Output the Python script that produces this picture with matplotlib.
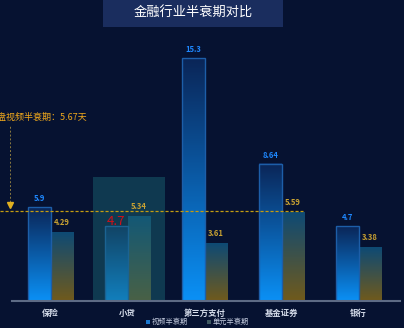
import numpy as np
import matplotlib
matplotlib.use("Agg")
import matplotlib.pyplot as plt
from matplotlib.colors import LinearSegmentedColormap
from matplotlib.patches import Rectangle

plt.rcParams['font.family'] = ['Noto Sans CJK SC', 'DejaVu Sans']

categories = ["保险", "小贷", "第三方支付", "基金证券", "银行"]
video_half = [5.9, 4.7, 15.3, 8.64, 4.7]
unit_half = [4.29, 5.34, 3.61, 5.59, 3.38]
highlight = 1  # 小贷: label drawn in red
avg_value = 5.67
avg_label = "大盘视频半衰期：5.67天"
title = "金融行业半衰期对比"
legend_names = ["视频半衰期", "单元半衰期"]

BG = "#061231"
W, H = 404, 328
fig = plt.figure(figsize=(W / 100, H / 100), dpi=100, facecolor=BG)

# plot area: x 12..397 px, baseline at y=301 px, 15.88 px per unit
ax = fig.add_axes([12 / W, (H - 301) / H, 385 / W, 16 * 15.88 / H])
ax.set_facecolor(BG)
ax.set_xlim(-0.5, 4.5)
ax.set_ylim(0, 16)
for s in ax.spines.values():
    s.set_visible(False)
ax.set_yticks([])
ax.set_xticks(range(len(categories)))
ax.set_xticklabels(categories, color="#d5dcea", fontsize=6, fontweight="bold")
ax.tick_params(axis="x", length=0, pad=6)

blue_cmap = LinearSegmentedColormap.from_list("b", ["#0a90f5", "#0b2658"])
gold_cmap = LinearSegmentedColormap.from_list("g", ["#705a1c", "#0e4a74"])
grad = np.linspace(0, 1, 100).reshape(-1, 1)

bw = 0.286
x = np.arange(len(categories))
for i in range(len(categories)):
    xb = x[i] - bw
    vb = video_half[i]
    ax.imshow(grad, cmap=blue_cmap, origin="lower", aspect="auto",
              extent=(xb, xb + bw, 0, vb), zorder=2)
    ax.add_patch(Rectangle((xb, 0), bw, vb, fill=False, edgecolor="#1d5ea8",
                           lw=1.0, zorder=3))
    if i == highlight:
        ax.annotate(f"{vb:g}", (xb + bw / 2, vb), xytext=(0, -1),
                    textcoords="offset points", ha="center", va="bottom",
                    color="#d0101a", fontsize=9.5, zorder=7)
    else:
        ax.annotate(f"{vb:g}", (xb + bw / 2, vb), xytext=(0, 3),
                    textcoords="offset points", ha="center", va="bottom",
                    color="#1e88ff", fontsize=5.5, fontweight="bold", zorder=6)
    xg = x[i]
    vg = unit_half[i]
    ax.imshow(grad, cmap=gold_cmap, origin="lower", aspect="auto",
              extent=(xg, xg + bw, 0, vg), zorder=2)
    ax.annotate(f"{vg:g}", (xg + bw / 2, vg), xytext=(0, 4),
                textcoords="offset points", ha="center", va="bottom",
                color="#c9a232", fontsize=5.5, fontweight="bold", zorder=6)

# highlighted area on 小贷
ax.add_patch(Rectangle((0.552, 0), 0.935, 7.8, facecolor="#1a6a78", alpha=0.45,
                       edgecolor="none", zorder=4))

# average line
ax.plot([-0.656, 3.28], [avg_value, avg_value], ls=(0, (2.5, 1.5)),
        color="#c49c10", lw=0.9, clip_on=False, zorder=5)
ax.plot([-0.526, -0.526], [avg_value + 0.3, 11.0], ls=(0, (2, 2)),
        color="#8a7a40", lw=0.7, clip_on=False, zorder=5)
ax.plot([-0.526], [avg_value + 0.35], marker="v", color="#e0b020", ms=4,
        clip_on=False, zorder=5)
fig.text(87 / W, 1 - 117 / H, avg_label, color="#f0a81c", fontsize=6.5,
         ha="right", va="center")

# baseline
ax.plot([-0.5, 4.54], [0, 0], color="#5d6b85", lw=1.5, clip_on=False, zorder=5)

# title box
fig.patches.append(Rectangle((103 / W, 1 - 27 / H), 180 / W, 27 / H,
                             transform=fig.transFigure, facecolor="#1a2d5e",
                             edgecolor="none"))
fig.text(193 / W, 1 - 13 / H, title, color="white", fontsize=9.5,
         ha="center", va="center")

# legend
ly = 1 - 322 / H
fig.patches.append(Rectangle((146 / W, ly - 2 / H), 4 / W, 4 / H,
                             transform=fig.transFigure, facecolor="#1a78d0"))
fig.text(152 / W, ly, legend_names[0], color="#c5cde0", fontsize=5.2,
         ha="left", va="center")
fig.patches.append(Rectangle((207 / W, ly - 2 / H), 4 / W, 4 / H,
                             transform=fig.transFigure, facecolor="#3e5860"))
fig.text(213 / W, ly, legend_names[1], color="#c5cde0", fontsize=5.2,
         ha="left", va="center")

fig.savefig("out.png", dpi=100, facecolor=BG)
